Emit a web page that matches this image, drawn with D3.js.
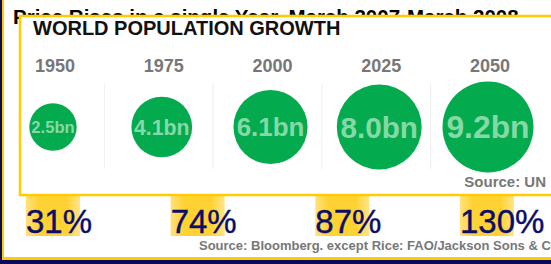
<!DOCTYPE html>
<html><head><meta charset="utf-8">
<script src="https://cdn.jsdelivr.net/npm/d3@7"></script>
<style>
html,body{margin:0;padding:0;background:#fff;overflow:hidden}
svg{display:block;font-family:Arial,"Liberation Sans",sans-serif}
</style></head><body>
<script>
// Background chart: price rises
const commodities = ["A","B","C","D"];
const priceRises = [31, 74, 87, 130];
const priceTitle = "Price Rises in a single Year, March 2007-March 2008";
const priceSource = "Source: Bloomberg. except Rice: FAO/Jackson Sons & Co";
// Overlay chart: world population
const years = ["1950","1975","2000","2025","2050"];
const population = [2.5, 4.1, 6.1, 8.0, 9.2];
const popTitle = "WORLD POPULATION GROWTH";
const popSource = "Source: UN";

const W = 551, H = 264;
const svg = d3.select("body").append("svg").attr("width", W).attr("height", H);
const defs = svg.append("defs");
const grad = defs.append("linearGradient").attr("id","barg").attr("x1","0").attr("x2","1").attr("y1","0").attr("y2","0");
grad.append("stop").attr("offset","0%").attr("stop-color","#FFE27A");
grad.append("stop").attr("offset","25%").attr("stop-color","#FFD233");
grad.append("stop").attr("offset","75%").attr("stop-color","#FFD233");
grad.append("stop").attr("offset","100%").attr("stop-color","#FFE68A");

svg.append("rect").attr("width", W).attr("height", H).attr("fill", "#fff");

// background title
svg.append("text").attr("x", 13).attr("y", 24).attr("font-size", 20.5).attr("font-weight", "bold")
  .attr("fill", "#000").text(priceTitle);

// bars
const xb = d3.scalePoint().domain(commodities).range([26, 460]);
const yb = d3.scaleLinear().domain([0, 130]).range([236, 40]);
const bw = 54;
svg.append("g").selectAll("rect").data(priceRises).join("rect")
  .attr("x", (d,i) => xb(commodities[i]))
  .attr("y", d => yb(d))
  .attr("width", bw)
  .attr("height", d => yb(0) - yb(d))
  .attr("fill", "url(#barg)");

svg.append("g").selectAll("text").data(priceRises).join("text")
  .attr("x", (d,i) => xb(commodities[i]))
  .attr("y", 233)
  .attr("font-size", 33)
  .attr("fill", "#0c0c6a")
  .attr("stroke", "#0c0c6a").attr("stroke-width", 0.4)
  .text(d => d + "%");

svg.append("text").attr("x", 199).attr("y", 250).attr("font-size", 13).attr("font-weight","bold")
  .attr("fill", "#777").text(priceSource);

// outer borders
svg.append("rect").attr("x", 0).attr("y", 0).attr("width", 2).attr("height", H).attr("fill", "#0a0a5c");
svg.append("rect").attr("x", 2).attr("y", 0).attr("width", 2).attr("height", 258).attr("fill", "#FFCC00");
svg.append("rect").attr("x", 2).attr("y", 257).attr("width", W).attr("height", 3).attr("fill", "#FFCC00");
svg.append("rect").attr("x", 0).attr("y", 260).attr("width", W).attr("height", 4).attr("fill", "#0a0a5c");

// overlay panel
const panel = svg.append("g");
panel.append("rect").attr("x", 20).attr("y", 16).attr("width", 540).attr("height", 179)
  .attr("fill", "#fff").attr("stroke", "#FFCC00").attr("stroke-width", 2.5);
panel.append("text").attr("x", 33).attr("y", 35).attr("font-size", 20).attr("font-weight","bold")
  .attr("fill", "#111").text(popTitle);

const xp = d3.scalePoint().domain(years).range([53, 488]);
const r = d3.scaleSqrt().domain([0, 9.2]).range([0, 45.5]);
const cy = 127;

// separators
const seps = years.slice(1);
panel.append("g").selectAll("line").data(seps).join("line")
  .attr("x1", (d,i) => (xp(years[i]) + xp(years[i+1]))/2 - 3)
  .attr("x2", (d,i) => (xp(years[i]) + xp(years[i+1]))/2 - 3)
  .attr("y1", 83).attr("y2", 169)
  .attr("stroke", "#eeeeee").attr("stroke-width", 1);

panel.append("g").selectAll("text").data(years).join("text")
  .attr("x", d => xp(d) + 2).attr("y", 72).attr("text-anchor","middle")
  .attr("font-size", 18).attr("font-weight","bold").attr("fill","#777").text(d => d);

panel.append("g").selectAll("circle").data(population).join("circle")
  .attr("cx", (d,i) => xp(years[i])).attr("cy", cy).attr("r", d => r(d))
  .attr("fill", "#04AA4E");

panel.append("g").selectAll("text").data(population).join("text")
  .attr("x", (d,i) => xp(years[i])).attr("y", d => cy + 0.36*0.7*r(d))
  .attr("text-anchor","middle").attr("font-weight","bold")
  .attr("font-size", d => 0.7*r(d))
  .attr("fill", "#86D9A6").text(d => d.toFixed(1) + "bn");

panel.append("text").attr("x", 546).attr("y", 187).attr("text-anchor","end")
  .attr("font-size", 15).attr("font-weight","bold").attr("fill","#777").text(popSource);
</script>
</body></html>
